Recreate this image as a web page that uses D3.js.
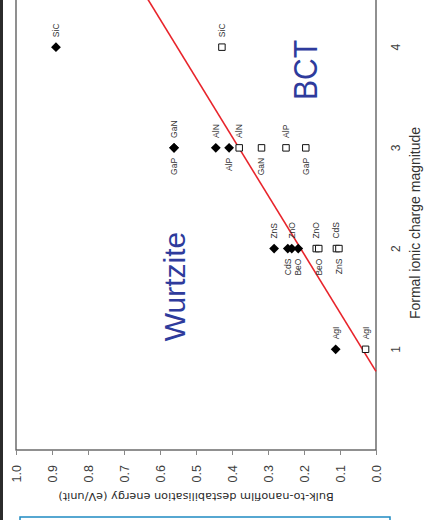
<!DOCTYPE html>
<html><head><meta charset="utf-8">
<script src="https://cdn.jsdelivr.net/npm/d3@7"></script>
<style>body{margin:0;background:#fff}svg{display:block}</style>
</head><body>
<svg id="c" width="424" height="520"></svg>
<script>
// Wurtzite (filled diamonds)
const wurtziteNames = ["AgI","ZnS","CdS","ZnO","BeO","GaP","GaN","AlN","AlP","SiC"];
const wurtziteCharge = [1,2,2,2,2,3,3,3,3,4];
const wurtziteEnergy = [0.112,0.283,0.245,0.234,0.216,0.561,0.561,0.445,0.408,0.889];
const wurtziteLabelSide = ["r","r","l","r","l","l","r","r","l","r"];
// BCT (open squares)
const bctNames = ["AgI","ZnO","BeO","CdS","ZnS","GaP","AlP","GaN","AlN","SiC"];
const bctCharge = [1,2,2,2,2,3,3,3,3,4];
const bctEnergy = [0.029,0.166,0.159,0.110,0.103,0.195,0.250,0.318,0.380,0.428];
const bctLabelSide = ["r","r","l","r","l","l","r","l","r","r"];
// dividing line
const lineCharge = [0.78,4.5];
const lineEnergy = [0.0,0.638];
const xTicks = [1,2,3,4];
const yTicks = [0,0.1,0.2,0.3,0.4,0.5,0.6,0.7,0.8,0.9,1.0];

const svg = d3.select("#c");
// decorations in screen coordinates
svg.append("rect").attr("x",0).attr("y",0).attr("width",3).attr("height",520).attr("fill","#2b2b2b");
svg.append("rect").attr("x",20).attr("y",517).attr("width",370).attr("height",12)
  .attr("fill","#fff").attr("stroke","#1f8ac2").attr("stroke-width",1.5);

// chart drawn in a rotated frame
const g = svg.append("g").attr("transform","translate(0,520) rotate(-90)");
const x = d3.scaleLinear().domain([0,4.5]).range([70,523.2]);
const y = d3.scaleLinear().domain([0,1]).range([376,16]);

g.append("rect").attr("x",x(0)).attr("y",y(1)).attr("width",x(4.5)-x(0)).attr("height",y(0)-y(1))
  .attr("fill","#fff").attr("stroke","#555").attr("stroke-width",1.3);

const yAxis = g.append("g").attr("transform",`translate(${x(0)},0)`)
  .call(d3.axisLeft(y).tickValues(yTicks).tickFormat(d3.format(".1f")).tickSize(5).tickPadding(10));
yAxis.select(".domain").remove();
yAxis.selectAll("line").attr("stroke","#888");
yAxis.selectAll("text").attr("font-family","Liberation Sans, Arial, sans-serif").attr("font-size",12.5).attr("fill","#404040");

g.selectAll(".xt").data(xTicks).enter().append("text")
  .attr("x",d=>x(d)).attr("y",400).attr("text-anchor","middle")
  .attr("font-family","Liberation Sans, Arial, sans-serif").attr("font-size",12).attr("fill","#404040").text(d=>d);

g.append("text").attr("x",297).attr("y",420).attr("text-anchor","middle")
  .attr("font-family","Liberation Sans, Arial, sans-serif").attr("font-size",14).attr("fill","#333")
  .text("Formal ionic charge magnitude");
g.append("text").attr("transform",`translate(27,${(y(0)+y(1))/2}) rotate(-90)`).attr("text-anchor","middle")
  .attr("font-family","DejaVu Sans, sans-serif").attr("font-size",11.3).attr("fill","#2a2a2a")
  .text("Bulk-to-nanofilm destabilisation energy (eV/unit)");

// red line
g.append("path").datum(lineCharge.map((c,i)=>[c,lineEnergy[i]]))
  .attr("d",d3.line().x(d=>x(d[0])).y(d=>y(d[1])))
  .attr("stroke","#e8242b").attr("stroke-width",1.6).attr("fill","none");

// BCT squares
const sq = d3.symbol().type(d3.symbolSquare).size(42);
g.selectAll(".b").data(bctNames).enter().append("path")
  .attr("d",sq).attr("transform",(d,i)=>`translate(${x(bctCharge[i])},${y(bctEnergy[i])})`)
  .attr("fill","#fff").attr("stroke","#111").attr("stroke-width",1);
// Wurtzite diamonds
const dm = d3.symbol().type(d3.symbolSquare).size(48);
g.selectAll(".w").data(wurtziteNames).enter().append("path")
  .attr("d",dm).attr("transform",(d,i)=>`translate(${x(wurtziteCharge[i])},${y(wurtziteEnergy[i])}) rotate(45)`)
  .attr("fill","#000");

function labels(names, charge, energy, side){
  g.selectAll(null).data(names).enter().append("text")
    .attr("x",(d,i)=>x(charge[i]) + (side[i]==="r"?10:-10))
    .attr("y",(d,i)=>y(energy[i])).attr("dy","0.35em")
    .attr("text-anchor",(d,i)=>side[i]==="r"?"start":"end")
    .attr("font-family","Liberation Sans, Arial, sans-serif").attr("font-size",8.5).attr("fill","#333")
    .text(d=>d);
}
labels(wurtziteNames, wurtziteCharge, wurtziteEnergy, wurtziteLabelSide);
labels(bctNames, bctCharge, bctEnergy, bctLabelSide);

g.append("text").attr("x",233.5).attr("y",185).attr("text-anchor","middle")
  .attr("font-family","Liberation Sans, Arial, sans-serif").attr("font-size",30).attr("fill","#2e3b9c").text("Wurtzite");
g.append("text").attr("x",420).attr("y",317).attr("textLength",60).attr("lengthAdjust","spacingAndGlyphs")
  .attr("font-family","Liberation Sans, Arial, sans-serif").attr("font-size",34).attr("fill","#2e3b9c").text("BCT");
</script>
</body></html>
